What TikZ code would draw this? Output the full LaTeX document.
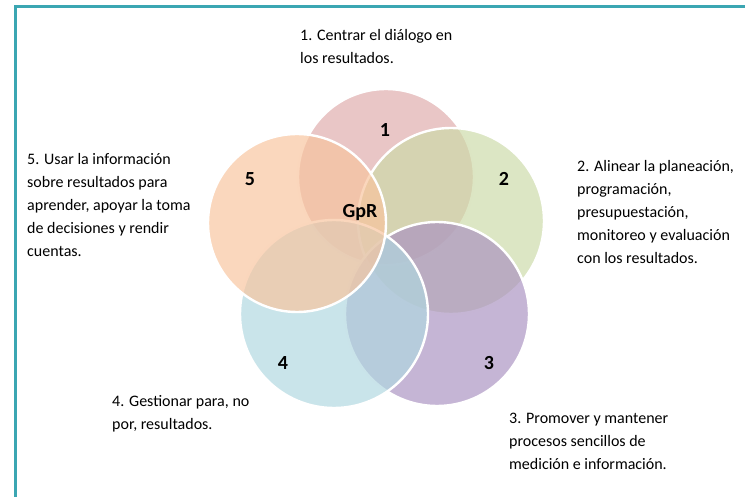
\documentclass[tikz,border=0pt]{standalone}
\usepackage{fontspec}
\setmainfont{Carlito}
\definecolor{frameteal}{HTML}{3BA6B2}
\definecolor{cpink}{HTML}{DFABAB}
\definecolor{cgreen}{HTML}{CCDAA8}
\definecolor{cpurple}{HTML}{AA92C1}
\definecolor{cblue}{HTML}{B0D7E0}
\definecolor{corange}{HTML}{F8C49D}
\begin{document}
\begin{tikzpicture}[x=1pt,y=-1pt,
  petal/.style={draw=white,line width=2.4pt,fill opacity=0.68},
  desc/.style={anchor=base west,inner sep=0pt,align=left,font=\fontsize{16}{23}\selectfont},
  num/.style={inner sep=0pt,font=\fontsize{20}{22}\selectfont\bfseries}]
\useasboundingbox (0,0) rectangle (745,497);
% frame
\draw[frameteal,line width=3pt] (15.5,497) -- (15.5,6.5) -- (745,6.5);
% petals
\filldraw[petal,fill=cpink] (386,177) circle (88);
\filldraw[petal,fill=cgreen] (451,221) circle (93);
\filldraw[petal,fill=cpurple] (437,314) circle (92);
\filldraw[petal,fill=cblue] (334,314) circle (94);
\filldraw[petal,fill=corange] (297,223) circle (89);
% labels in petals
\node[num] (n1) at (385,130) {1};
\node[num] (n2) at (504,179) {2};
\node[num] (n3) at (489,363) {3};
\node[num] (n4) at (283,363) {4};
\node[num] (n5) at (250,179) {5};
\node[num] (gpr) at (360,213) {GpR};
% descriptions (anchor = baseline of last line)
\node[desc] (t1) at (300,64) {1. Centrar el diálogo en\\los resultados.};
\node[desc] (t2) at (577,264) {2. Alinear la planeación,\\programación,\\presupuestación,\\monitoreo y evaluación\\con los resultados.};
\node[desc] (t3) at (509,469) {3. Promover y mantener\\procesos sencillos de\\medición e información.};
\node[desc] (t4) at (112,429) {4. Gestionar para, no\\por, resultados.};
\node[desc] (t5) at (27,257) {5. Usar la información\\sobre resultados para\\aprender, apoyar la toma\\de decisiones y rendir\\cuentas.};
\end{tikzpicture}
\end{document}
